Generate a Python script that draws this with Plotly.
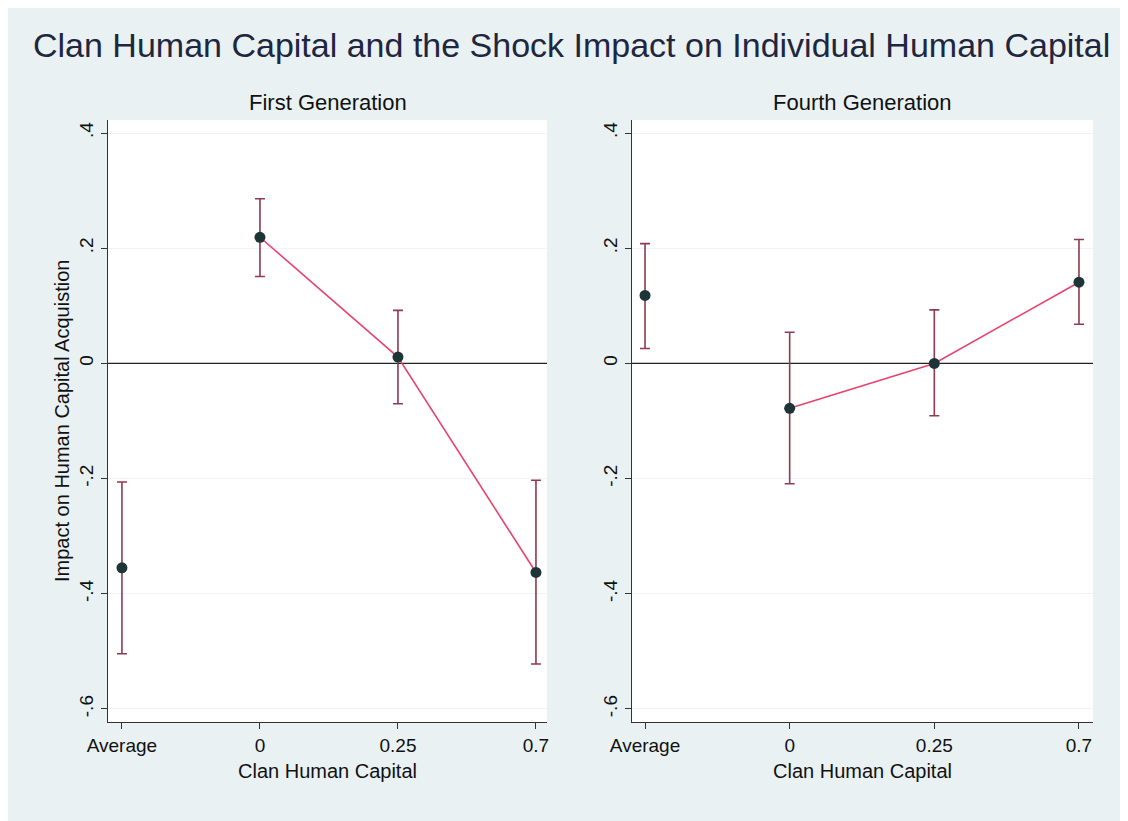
import plotly.graph_objects as go

categories = ["Average", "0", "0.25", "0.7"]
positions = [0, 1, 2, 3]

first_est = [-0.355, 0.219, 0.011, -0.363]
first_lo = [-0.504, 0.151, -0.070, -0.522]
first_hi = [-0.206, 0.286, 0.092, -0.203]

fourth_est = [0.118, -0.078, 0.0, 0.141]
fourth_lo = [0.026, -0.209, -0.091, 0.068]
fourth_hi = [0.208, 0.054, 0.093, 0.215]

y_ticks = [0.4, 0.2, 0.0, -0.2, -0.4, -0.6]
y_ticktext = [".4", ".2", "0", "-.2", "-.4", "-.6"]

# page has an 8px body margin, so the figure is a bit smaller than the window
OFF = 8
W, H = 1128 - OFF, 821 - OFF
FONT = "Liberation Sans"
BG = "#e9f1f3"
MARKER = "#1d3536"
BAR = "#8e3a50"
LINE = "#e8436d"


def px_x(p):
    return (p - OFF) / W


def px_y(p):
    return 1 - (p - OFF) / H


fig = go.Figure()

panels = [
    ("x", "y", first_est, first_lo, first_hi),
    ("x2", "y2", fourth_est, fourth_lo, fourth_hi),
]

for xa, ya, est, lo, hi in panels:
    # zero reference line
    fig.add_trace(go.Scatter(
        x=[-1, 4], y=[0, 0], mode="lines", xaxis=xa, yaxis=ya,
        line=dict(color="#222222", width=1.3), hoverinfo="skip", showlegend=False))
    # connecting line (not through the average)
    fig.add_trace(go.Scatter(
        x=positions[1:], y=est[1:], mode="lines", xaxis=xa, yaxis=ya,
        line=dict(color=LINE, width=1.6), showlegend=False))
    fig.add_trace(go.Scatter(
        x=positions, y=est, mode="markers", xaxis=xa, yaxis=ya,
        marker=dict(color=MARKER, size=11, line=dict(width=0)),
        error_y=dict(type="data", symmetric=False,
                     array=[h - e for h, e in zip(hi, est)],
                     arrayminus=[e - l for e, l in zip(est, lo)],
                     color=BAR, thickness=1.6, width=5),
        showlegend=False))

axis_common = dict(showline=True, linecolor="#333333", linewidth=1.3,
                   ticks="outside", ticklen=6, tickcolor="#333333", tickwidth=1.2,
                   tickfont=dict(family=FONT, size=19, color="#111111"),
                   zeroline=False, automargin=False)

fig.update_layout(
    template="none",
    width=W, height=H,
    margin=dict(l=0, r=0, t=0, b=0, pad=0),
    paper_bgcolor=BG, plot_bgcolor="white",
    font=dict(family=FONT, color="#111111"),
    showlegend=False,
    xaxis=dict(domain=[px_x(108), px_x(547)], range=[-0.101, 3.08],
               tickvals=positions, ticktext=categories, showgrid=False,
               anchor="y", **axis_common),
    yaxis=dict(domain=[px_y(722), px_y(120)], range=[-0.6226, 0.4226],
               tickvals=y_ticks, ticktext=y_ticktext, tickangle=-90,
               showgrid=True, gridcolor="#f0f4f6", gridwidth=1,
               anchor="x", **axis_common),
    xaxis2=dict(domain=[px_x(632), px_x(1093)], range=[-0.09, 3.097],
                tickvals=positions, ticktext=categories, showgrid=False,
                anchor="y2", **axis_common),
    yaxis2=dict(domain=[px_y(722), px_y(120)], range=[-0.6226, 0.4226],
                tickvals=y_ticks, ticktext=y_ticktext, tickangle=-90,
                showgrid=True, gridcolor="#f0f4f6", gridwidth=1,
                anchor="x2", **axis_common),
)

texts = [
    ("Clan Human Capital and the Shock Impact on Individual Human Capital",
     571, 45, 34, "#1e2640", 0),
    ("First Generation", 328, 103, 22, "#111111", 0),
    ("Fourth Generation", 862, 103, 22, "#111111", 0),
    ("Clan Human Capital", 327, 771, 20, "#111111", 0),
    ("Clan Human Capital", 862, 771, 20, "#111111", 0),
    ("Impact on Human Capital Acquistion", 62, 421, 20, "#111111", -90),
]
for txt, x, y, size, color, ang in texts:
    fig.add_annotation(text=txt, x=px_x(x), y=px_y(y), xref="paper", yref="paper",
                       xanchor="center", yanchor="middle", showarrow=False,
                       textangle=ang, font=dict(family=FONT, size=size, color=color))

fig.write_html("out.html")
